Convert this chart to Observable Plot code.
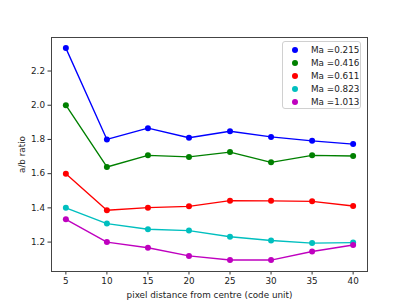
<!DOCTYPE html>
<html>
<head>
<meta charset="utf-8">
<script src="https://cdn.jsdelivr.net/npm/d3@7"></script>
<script src="https://cdn.jsdelivr.net/npm/@observablehq/plot@0.6"></script>
<style>
  html, body { margin: 0; padding: 0; background: #fff; }
  #wrap { position: relative; width: 407px; height: 305px; font-family: "DejaVu Sans", sans-serif; }
  #legend { position: absolute; left: 282px; top: 41px; width: 79px; height: 68px;
    border: 1px solid #d0d0d0; border-radius: 3px; background: rgba(255,255,255,0.8); box-sizing: border-box; }
  .row { position: absolute; left: 0; height: 13px; font-size: 8.8px; color: #222; line-height: 13px; white-space: nowrap; }
  .sw { position: absolute; left: 9px; top: 3.5px; width: 6px; height: 6px; border-radius: 50%; }
  .lab { position: absolute; left: 28px; top: 0; }
</style>
</head>
<body>
<div id="wrap"></div>
<script>
const distances = [5, 10, 15, 20, 25, 30, 35, 40];
const seriesNames = ["Ma =0.215", "Ma =0.416", "Ma =0.611", "Ma =0.823", "Ma =1.013"];
const seriesColors = ["#0000ff", "#008000", "#ff0000", "#00bfbf", "#bf00bf"];
const ma0215 = [2.334, 1.800, 1.866, 1.810, 1.848, 1.815, 1.792, 1.773];
const ma0416 = [2.000, 1.639, 1.707, 1.698, 1.726, 1.666, 1.707, 1.703];
const ma0611 = [1.599, 1.386, 1.401, 1.409, 1.442, 1.441, 1.438, 1.411];
const ma0823 = [1.400, 1.308, 1.275, 1.267, 1.231, 1.209, 1.194, 1.197];
const ma1013 = [1.333, 1.200, 1.167, 1.119, 1.095, 1.095, 1.145, 1.183];
const yTicks = [1.2, 1.4, 1.6, 1.8, 2.0, 2.2];
const xTicks = [5, 10, 15, 20, 25, 30, 35, 40];
const xLabel = "pixel distance from centre (code unit)";
const yLabel = "a/b ratio";

const allSeries = [ma0215, ma0416, ma0611, ma0823, ma1013];
const data = [];
allSeries.forEach((vals, i) => vals.forEach((v, j) => data.push({series: seriesNames[i], x: distances[j], y: v})));

const chart = Plot.plot({
  width: 407,
  height: 305,
  marginLeft: 51,
  marginRight: 40,
  marginTop: 37,
  marginBottom: 34,
  style: {fontFamily: "DejaVu Sans, sans-serif", fontSize: "8.8px", color: "#222", background: "white"},
  x: {domain: [3.25, 41.75], ticks: xTicks, label: null},
  y: {domain: [1.028, 2.396], ticks: yTicks, label: null},
  color: {domain: seriesNames, range: seriesColors},
  marks: [
    Plot.axisX({ticks: xTicks, tickSize: 3.5, tickPadding: 3, label: null, tickFormat: d => String(d), stroke: "#333"}),
    Plot.axisY({ticks: yTicks, tickSize: 3.5, tickPadding: 3, label: null, tickFormat: d => d.toFixed(1), stroke: "#333"}),
    Plot.line(data, {x: "x", y: "y", z: "series", stroke: "series", strokeWidth: 1.35}),
    Plot.dot(data, {x: "x", y: "y", fill: "series", r: 3}),
    Plot.frame({stroke: "#444", strokeWidth: 1}),
    Plot.text([xLabel], {text: d => d, frameAnchor: "bottom", dy: 23.5, lineAnchor: "middle", fill: "#222"}),
    Plot.text([yLabel], {text: d => d, frameAnchor: "left", dx: -29.5, rotate: -90, textAnchor: "middle", lineAnchor: "middle", fill: "#222"})
  ]
});

const wrap = document.getElementById("wrap");
wrap.appendChild(chart);
const legend = document.createElement("div");
legend.id = "legend";
seriesNames.forEach((name, i) => {
  const row = document.createElement("div");
  row.className = "row";
  row.style.top = (1.5 + i * 13) + "px";
  const sw = document.createElement("div");
  sw.className = "sw";
  sw.style.background = seriesColors[i];
  const lab = document.createElement("span");
  lab.className = "lab";
  lab.textContent = name;
  row.appendChild(sw);
  row.appendChild(lab);
  legend.appendChild(row);
});
wrap.appendChild(legend);
</script>
</body>
</html>
